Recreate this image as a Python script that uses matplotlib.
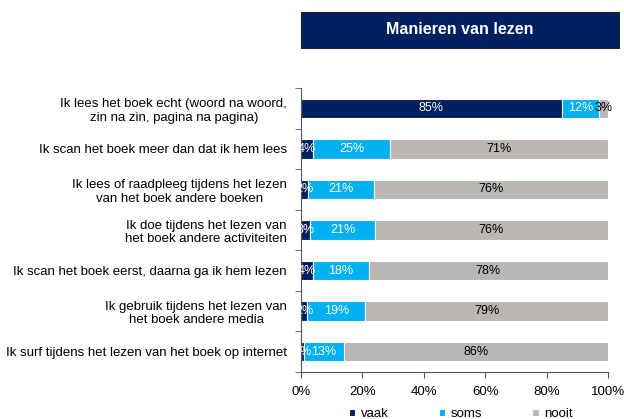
import matplotlib.pyplot as plt
import numpy as np
from matplotlib.patches import Rectangle

plt.rcParams['font.family'] = ['Liberation Sans', 'DejaVu Sans']

categories = [
    "Ik lees het boek echt (woord na woord,\nzin na zin, pagina na pagina)",
    "Ik scan het boek meer dan dat ik hem lees",
    "Ik lees of raadpleeg tijdens het lezen\nvan het boek andere boeken",
    "Ik doe tijdens het lezen van\nhet boek andere activiteiten",
    "Ik scan het boek eerst, daarna ga ik hem lezen",
    "Ik gebruik tijdens het lezen van\nhet boek andere media",
    "Ik surf tijdens het lezen van het boek op internet",
]
vaak = [85, 4, 2.4, 3, 4, 2, 1]
soms = [12, 25, 21.4, 21, 18, 19, 13]
nooit = [3, 71, 76.2, 76, 78, 79, 86]

series_names = ["vaak", "soms", "nooit"]
colors = ["#002060", "#00B0F0", "#BCB6B2"]
text_colors = ["white", "white", "black"]

W, H = 624, 419
fig = plt.figure(figsize=(W / 100, H / 100), dpi=100)
ax = fig.add_axes([301 / W, 1 - 372 / H, (608 - 301) / W, (372 - 88) / H])

y = np.arange(len(categories))
left = np.zeros(len(categories))
for vals, name, col, tcol in zip([vaak, soms, nooit], series_names, colors, text_colors):
    vals = np.array(vals, dtype=float)
    ax.barh(y, vals, left=left, height=0.48, color=col, edgecolor="white",
            linewidth=0.8, label=name)
    for yi, l, v in zip(y, left, vals):
        ax.text(l + v / 2, yi, f"{v:.0f}%", ha="center", va="center",
                color=tcol, fontsize=9)
    left += vals

ax.set_xlim(0, 100)
ax.set_ylim(len(categories) - 0.5, -0.5)
ax.set_xticks(np.arange(0, 101, 20))
ax.set_xticklabels([f"{v}%" for v in range(0, 101, 20)], fontsize=9.5)
ax.set_yticks(y)
ax.set_yticklabels(categories, fontsize=9.5, multialignment="center")
ax.tick_params(axis="y", length=0, pad=10)
ax.set_yticks(np.arange(-0.5, len(categories), 1), minor=True)
ax.tick_params(axis="y", which="minor", length=4, color="#555555")
ax.tick_params(axis="x", length=4, color="#555555", pad=6)
for s in ["top", "right"]:
    ax.spines[s].set_visible(False)
for s in ["left", "bottom"]:
    ax.spines[s].set_color("#555555")

# title box
fig.patches.append(Rectangle((301 / W, 1 - 48 / H), (619 - 301) / W, 36 / H,
                             transform=fig.transFigure, facecolor="#002060",
                             edgecolor="#222222", linewidth=0.8))
fig.text((301 + 619) / 2 / W, 1 - 30 / H, "Manieren van lezen", color="white",
         fontsize=11.5, fontweight="bold", ha="center", va="center")

ax.legend(loc="upper center", bbox_to_anchor=(0.52, -0.085), ncol=3, frameon=False,
          fontsize=9.5, handlelength=0.5, handleheight=0.5, columnspacing=3.8,
          handletextpad=0.4)

fig.savefig("out.png", dpi=100)
